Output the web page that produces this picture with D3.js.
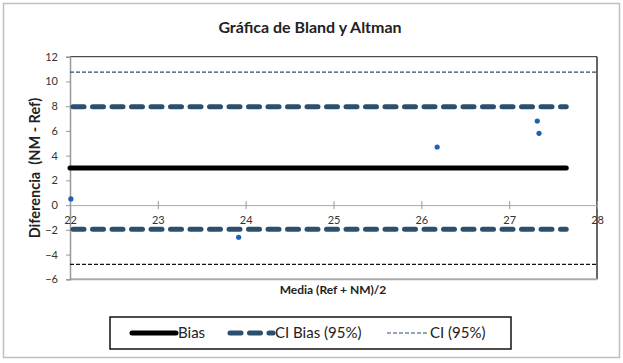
<!DOCTYPE html>
<html><head><meta charset="utf-8">
<script src="https://cdn.jsdelivr.net/npm/d3@7"></script>
<style>body{margin:0;background:#fff}svg{display:block}text{font-family:Lato,"Open Sans",sans-serif}</style>
</head><body>
<svg id="c" width="623" height="363"></svg>
<script>
const title = "Gráfica de Bland y Altman";
const xLabel = "Media (Ref + NM)/2";
const yLabel = "Diferencia  (NM - Ref)";
const xTicks = [22, 23, 24, 25, 26, 27, 28];
const yTicks = [-6, -4, -2, 0, 2, 4, 6, 8, 10, 12];
const pointsX = [22.01, 23.92, 26.18, 27.32, 27.34];
const pointsY = [0.5, -2.6, 4.7, 6.8, 5.8];
const bias = 3.0;
const ciBias = [7.95, -1.95];
const ci = [10.75, -4.8];
const limitLineX = [22, 27.65];
const ciLineX = [22, 28];
const legendNames = ["Bias", "CI Bias (95%)", "CI (95%)"];

const svg = d3.select("#c");
const x = d3.scaleLinear().domain([22, 28]).range([70, 597]);
const y = d3.scaleLinear().domain([-6, 12]).range([279.3, 56.7]);
const blue = "#2c4f6e";

// outer border
svg.append("rect").attr("x", 3.5).attr("y", 3.5).attr("width", 616).attr("height", 354)
  .attr("fill", "#fff").attr("stroke", "#c0c0c0").attr("stroke-width", 1.5);

// title
svg.append("text").attr("x", 310).attr("y", 33).attr("text-anchor", "middle")
  .attr("font-size", 16).attr("font-weight", "bold").attr("fill", "#222").text(title);

// plot frame: top & right dark
svg.append("line").attr("x1", x(22)).attr("x2", x(28)).attr("y1", y(12)).attr("y2", y(12)).attr("stroke", "#222").attr("stroke-width", 1);
svg.append("line").attr("x1", x(28)).attr("x2", x(28)).attr("y1", y(12)).attr("y2", y(-6)).attr("stroke", "#333").attr("stroke-width", 1.5);
svg.append("line").attr("x1", x(22)).attr("x2", x(28)).attr("y1", y(-6)).attr("y2", y(-6)).attr("stroke", "#aaa").attr("stroke-width", 2);

// y axis
const yAxis = svg.append("g").attr("transform", `translate(${x(22)},0)`)
  .call(d3.axisLeft(y).tickValues(yTicks).tickSize(4).tickPadding(8).tickFormat(d3.format("d")));
yAxis.select(".domain").attr("stroke", "#999").attr("stroke-width", 1.5);
yAxis.selectAll(".tick line").attr("stroke", "#999");
yAxis.selectAll(".tick text").attr("font-size", 11).attr("fill", "#333").style("font-family", "Lato,sans-serif");

// x axis at y=0
const xAxis = svg.append("g").attr("transform", `translate(0,${y(0)})`)
  .call(d3.axisBottom(x).tickValues(xTicks).tickSizeInner(4).tickSizeOuter(0).tickPadding(7).tickFormat(d3.format("d")));
xAxis.select(".domain").attr("stroke", "#aaa").attr("stroke-width", 1);
xAxis.selectAll(".tick line").attr("stroke", "#999").attr("y1", -4).attr("y2", 4);
xAxis.selectAll(".tick text").attr("font-size", 11).attr("fill", "#333").style("font-family", "Lato,sans-serif");

// CI lines (thin dashed)
svg.append("line").attr("x1", x(ciLineX[0])).attr("x2", x(ciLineX[1])).attr("y1", y(ci[0])).attr("y2", y(ci[0]))
  .attr("stroke", blue).attr("stroke-width", 1.2).attr("stroke-dasharray", "4,2");
svg.append("line").attr("x1", x(ciLineX[0])).attr("x2", x(ciLineX[1])).attr("y1", y(ci[1])).attr("y2", y(ci[1]))
  .attr("stroke", "#111").attr("stroke-width", 1.2).attr("stroke-dasharray", "4,2");

// CI Bias lines (thick dashed)
ciBias.forEach(v => {
  svg.append("line").attr("x1", x(limitLineX[0]) + 3).attr("x2", x(limitLineX[1])).attr("y1", y(v)).attr("y2", y(v))
    .attr("stroke", blue).attr("stroke-width", 5).attr("stroke-linecap", "round").attr("stroke-dasharray", "11,8.5");
});

// Bias line
svg.append("line").attr("x1", x(limitLineX[0])).attr("x2", x(limitLineX[1])).attr("y1", y(bias)).attr("y2", y(bias))
  .attr("stroke", "#000").attr("stroke-width", 5).attr("stroke-linecap", "round");

// points
svg.selectAll("circle.pt").data(pointsX.map((d, i) => [d, pointsY[i]])).enter().append("circle")
  .attr("class", "pt").attr("cx", d => x(d[0])).attr("cy", d => y(d[1])).attr("r", 2.6).attr("fill", "#1f5fb8");

// axis labels
svg.append("text").attr("x", 333).attr("y", 294).attr("text-anchor", "middle")
  .attr("font-size", 12).attr("font-weight", "bold").attr("fill", "#222").text(xLabel);
svg.append("text").attr("transform", "translate(40,168) rotate(-90)").attr("text-anchor", "middle")
  .attr("font-size", 14.5).attr("font-weight", "bold").attr("fill", "#222").style("white-space", "pre").text(yLabel);

// legend
svg.append("rect").attr("x", 110).attr("y", 317).attr("width", 401).attr("height", 32)
  .attr("fill", "#fff").attr("stroke", "#111").attr("stroke-width", 1.5);
const ly = 333;
const legendItems = [
  {name: legendNames[0], x1: 132, x2: 176, tx: 178, color: "#000", w: 5, dash: null, cap: "round"},
  {name: legendNames[1], x1: 230, x2: 273, tx: 275, color: blue, w: 5, dash: "11,8.5", cap: "round"},
  {name: legendNames[2], x1: 387, x2: 428, tx: 430, color: blue, w: 1.2, dash: "4,2", cap: "butt"}
];
legendItems.forEach(it => {
  svg.append("line").attr("x1", it.x1).attr("x2", it.x2).attr("y1", ly).attr("y2", ly)
    .attr("stroke", it.color).attr("stroke-width", it.w).attr("stroke-linecap", it.cap)
    .attr("stroke-dasharray", it.dash);
  svg.append("text").attr("x", it.tx).attr("y", ly + 5).attr("font-size", 15).attr("fill", "#222").text(it.name);
});
</script>
</body></html>
